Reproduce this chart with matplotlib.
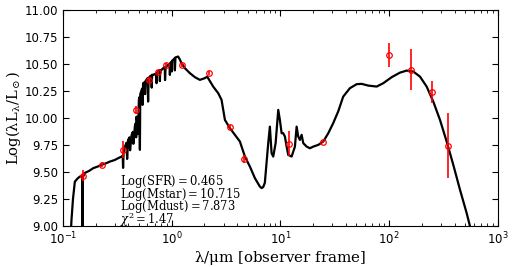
import numpy as np
import matplotlib
matplotlib.use('Agg')
import matplotlib.pyplot as plt

plt.rcParams['mathtext.fontset'] = 'dejavuserif'

# best-fit model SED (wavelength in micron, log lambda*L)
model_wave = [0.118, 0.120, 0.124, 0.129, 0.137, 0.143, 0.148, 0.151, 0.152, 0.153,
              0.159, 0.175, 0.190, 0.210, 0.227, 0.250, 0.270, 0.300, 0.323, 0.347,
              0.355, 0.358, 0.362, 0.372, 0.385, 0.390, 0.398, 0.410, 0.415, 0.429,
              0.440, 0.445, 0.459, 0.468, 0.472, 0.476, 0.490, 0.500,
              0.505, 0.511, 0.515, 0.530, 0.535, 0.540, 0.547, 0.565, 0.570, 0.575,
              0.600, 0.608, 0.615, 0.640, 0.650, 0.656, 0.662,
              0.676, 0.715, 0.727, 0.735, 0.752, 0.775, 0.780, 0.785, 0.800, 0.836,
              0.865, 0.870, 0.880, 0.929, 0.955, 0.964, 0.975, 1.000, 1.005, 1.010,
              1.033, 1.060, 1.071, 1.085, 1.148, 1.191,
              1.234, 1.324, 1.472, 1.636, 1.818, 2.022, 2.123, 2.410, 2.679, 2.877,
              3.090, 3.433, 3.815, 4.243, 4.716, 5.243, 5.828, 6.473, 6.714, 6.950,
              7.194, 7.362, 7.727, 8.000, 8.294, 8.590, 9.036, 9.550, 9.886, 10.26,
              10.61, 11.00, 11.40, 11.80, 12.68, 13.59, 14.09, 14.58, 15.10, 15.66,
              16.22, 17.42, 18.67, 20.04, 22.28, 24.77, 27.54, 30.56, 33.98, 37.77,
              43.55, 50.20, 55.85, 64.17, 76.71, 88.15, 105.4, 125.6, 144.8, 166.4,
              191.8, 220.9, 254.1, 293.0, 337.3, 388.2, 447.7, 515.2, 553.4, 600.0]
model_logL = [8.90, 9.05, 9.25, 9.41, 9.44, 9.456, 9.46, 9.45, 8.90, 9.45,
              9.49, 9.51, 9.534, 9.55, 9.565, 9.58, 9.595, 9.61, 9.627, 9.642,
              9.65, 9.537, 9.68, 9.734, 9.77, 9.62, 9.796, 9.82, 9.70, 9.843,
              9.87, 9.76, 9.919, 9.95, 9.82, 10.012, 9.85, 10.167,
              10.19, 9.704, 10.22, 10.259, 10.27, 10.12, 10.321, 10.33, 10.22, 10.34,
              10.368, 10.151, 10.37, 10.39, 10.39, 10.28, 10.40,
              10.398, 10.41, 10.321, 10.42, 10.429, 10.44, 10.34, 10.44, 10.44, 10.46,
              10.47, 10.35, 10.47, 10.491, 10.50, 10.398, 10.51, 10.52, 10.43, 10.53,
              10.537, 10.55, 10.44, 10.56, 10.568, 10.54,
              10.506, 10.46, 10.414, 10.377, 10.352, 10.368, 10.382, 10.29, 10.229, 10.167,
              9.981, 9.905, 9.843, 9.781, 9.642, 9.549, 9.442, 9.364, 9.35, 9.36,
              9.40, 9.519, 9.766, 9.919, 9.673, 9.642, 9.766, 10.074, 9.981, 9.858,
              9.858, 9.827, 9.734, 9.657, 9.642, 9.734, 9.919, 9.827, 9.796, 9.843,
              9.766, 9.734, 9.719, 9.734, 9.75, 9.781, 9.858, 9.951, 10.06, 10.197,
              10.275, 10.312, 10.315, 10.299, 10.29, 10.321, 10.377, 10.419, 10.438, 10.429,
              10.382, 10.29, 10.151, 9.981, 9.781, 9.565, 9.333, 9.118, 8.994, 8.80]

# observed photometry
obs_wave = [0.152, 0.229, 0.356, 0.469, 0.618, 0.751, 0.885, 1.25, 2.20, 3.41,
            4.61, 11.97, 24.8, 100, 160, 249, 349]
obs_logL = [9.466, 9.568, 9.704, 10.074, 10.352, 10.426, 10.488, 10.488, 10.417, 9.917,
            9.62, 9.759, 9.778, 10.583, 10.444, 10.238, 9.744]
obs_err = [0.05, 0.02, 0.08, 0.04, 0.02, 0.02, 0.02, 0.02, 0.02, 0.02,
           0.04, 0.116, 0.01, 0.108, 0.19, 0.10, 0.30]

fit_text = [r'$\rm Log(SFR) = 0.465$', r'$\rm Log(Mstar) = 10.715$',
            r'$\rm Log(Mdust) = 7.873$', r'$\chi^2 = 1.47$']

fig = plt.figure(figsize=(5.15, 2.67), dpi=100)
ax = fig.add_axes([0.122, 0.154, 0.845, 0.809])

ax.plot(model_wave, model_logL, color='black', lw=1.6)
ax.errorbar(obs_wave, obs_logL, yerr=obs_err, fmt='o', mfc='none', mec='red',
            ecolor='red', ms=4, mew=0.9, elinewidth=1.2, capsize=0)

ax.set_xscale('log')
ax.set_xlim(0.1, 1000)
ax.set_ylim(9.0, 11.0)
ax.set_yticks(np.arange(9.0, 11.01, 0.25))
ax.yaxis.set_major_formatter(matplotlib.ticker.FormatStrFormatter('%.2f'))
ax.tick_params(which='both', direction='in', top=True, right=True, labelsize=8.5)
ax.tick_params(which='major', length=4)
ax.tick_params(which='minor', length=2)

ax.set_xlabel(r'$\rm \lambda/\mu m\ [observer\ frame]$', fontsize=10.8, labelpad=1)
ax.set_ylabel(r'$\rm Log(\lambda L_\lambda/L_\odot)$', fontsize=10.6, labelpad=1)

ax.text(0.132, 0.245, '\n'.join(fit_text), transform=ax.transAxes, fontsize=8.3,
        va='top', ha='left', linespacing=0.63)

fig.savefig('out.png', dpi=100)
